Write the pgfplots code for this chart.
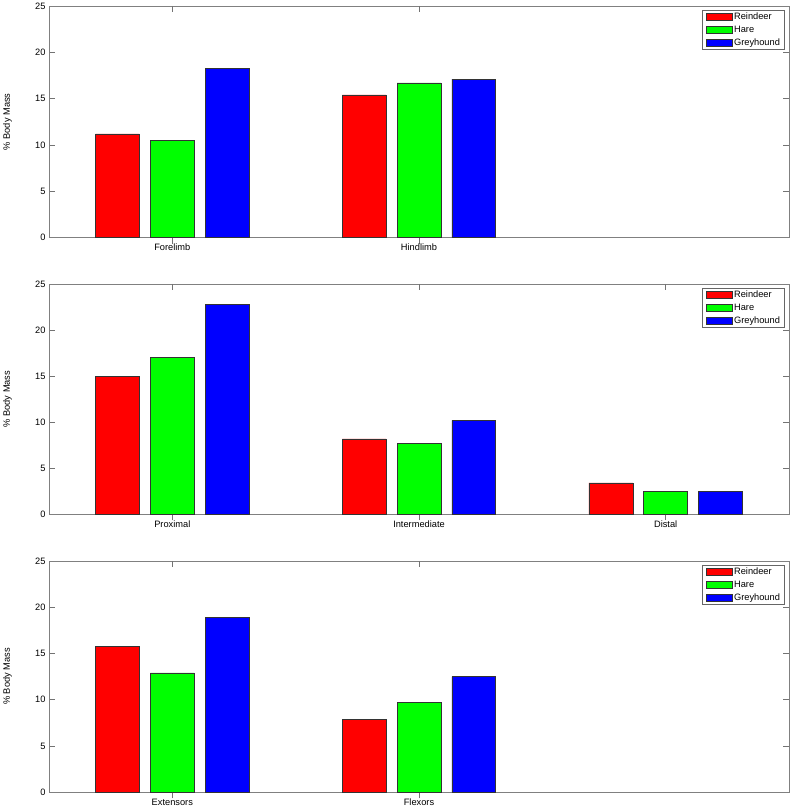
\documentclass[border=0pt]{standalone}
\usepackage{fontspec}
\setmainfont{Liberation Sans}
\usepackage{pgfplots}
\pgfplotsset{compat=1.18}
\tikzset{toptick/.style={black!55, line width=0.6bp}}
\pgfplotsset{
 myax/.style={
  scale only axis, width=740bp, xmin=0.5, xmax=3.5, ymin=0, ymax=25,
  ytick={0,5,10,15,20,25},
  tick align=inside, major tick length=6bp,
  xtick pos=left, ytick pos=both, yticklabel pos=left,
  axis line style={black!50, line width=0.6bp},
  every tick/.append style={black!55, line width=0.6bp},
  /pgf/number format/assume math mode=true,
  tick label style={font=\fontsize{9.3}{11}\selectfont},
  xticklabel style={yshift=3bp},
  label style={font=\fontsize{9.3}{11}\selectfont},
  ylabel={\% Body Mass},
  ylabel style={at={(axis description cs:-0.0561,0.5)}, anchor=center},
  ybar, bar width=0.1778,
  legend cell align=left,
  legend style={at={(1,1)}, anchor=north east, xshift=-4.3bp, yshift=-4.3bp,
    draw=black!60, line width=0.5bp, inner xsep=3bp, inner ysep=0bp, row sep=0pt,
    font=\fontsize{9.3}{11}\selectfont,
    nodes={inner xsep=1.5bp, inner ysep=2bp, text height=7bp, text depth=2bp}},
 },
 barleg/.style={legend image code/.code={\draw[##1,line width=0.5bp] (0bp,-3.5bp) rectangle (26.6bp,4.1bp);}},
 rein/.style={fill=red, draw=black!80, line width=0.5bp, bar shift=-0.2222, barleg},
 hare/.style={fill=green, draw=black!80, line width=0.5bp, bar shift=0, barleg},
 grey/.style={fill=blue, draw=black!80, line width=0.5bp, bar shift=0.2222, barleg},
}
\begin{document}
\begin{tikzpicture}
% top
\begin{axis}[myax, at={(49bp,569.3bp)}, anchor=south west, height=231.7bp,
  xtick={1,2}, xticklabels={Forelimb,Hindlimb}]
\addplot[rein] coordinates {(1,11.2) (2,15.4)};
\addplot[hare] coordinates {(1,10.5) (2,16.7)};
\addplot[grey] coordinates {(1,18.3) (2,17.1)};
\legend{Reindeer,Hare,Greyhound}
\draw[toptick] (axis cs:1,25) -- ++(0bp,-6bp);
\draw[toptick] (axis cs:2,25) -- ++(0bp,-6bp);
\end{axis}
% middle
\begin{axis}[myax, at={(49bp,292.7bp)}, anchor=south west, height=230.3bp,
  xtick={1,2,3}, xticklabels={Proximal,Intermediate,Distal}]
\addplot[rein] coordinates {(1,15.0) (2,8.2) (3,3.4)};
\addplot[hare] coordinates {(1,17.0) (2,7.7) (3,2.5)};
\addplot[grey] coordinates {(1,22.8) (2,10.2) (3,2.5)};
\legend{Reindeer,Hare,Greyhound}
\draw[toptick] (axis cs:1,25) -- ++(0bp,-6bp);
\draw[toptick] (axis cs:2,25) -- ++(0bp,-6bp);
\draw[toptick] (axis cs:3,25) -- ++(0bp,-6bp);
\end{axis}
% bottom
\begin{axis}[myax, at={(49bp,14.7bp)}, anchor=south west, height=231.3bp,
  xtick={1,2}, xticklabels={Extensors,Flexors}]
\addplot[rein] coordinates {(1,15.8) (2,7.9)};
\addplot[hare] coordinates {(1,12.9) (2,9.7)};
\addplot[grey] coordinates {(1,18.9) (2,12.5)};
\legend{Reindeer,Hare,Greyhound}
\draw[toptick] (axis cs:1,25) -- ++(0bp,-6bp);
\draw[toptick] (axis cs:2,25) -- ++(0bp,-6bp);
\end{axis}
\pgfresetboundingbox
\path (0,0) rectangle (793bp,807bp);
\end{tikzpicture}
\end{document}
